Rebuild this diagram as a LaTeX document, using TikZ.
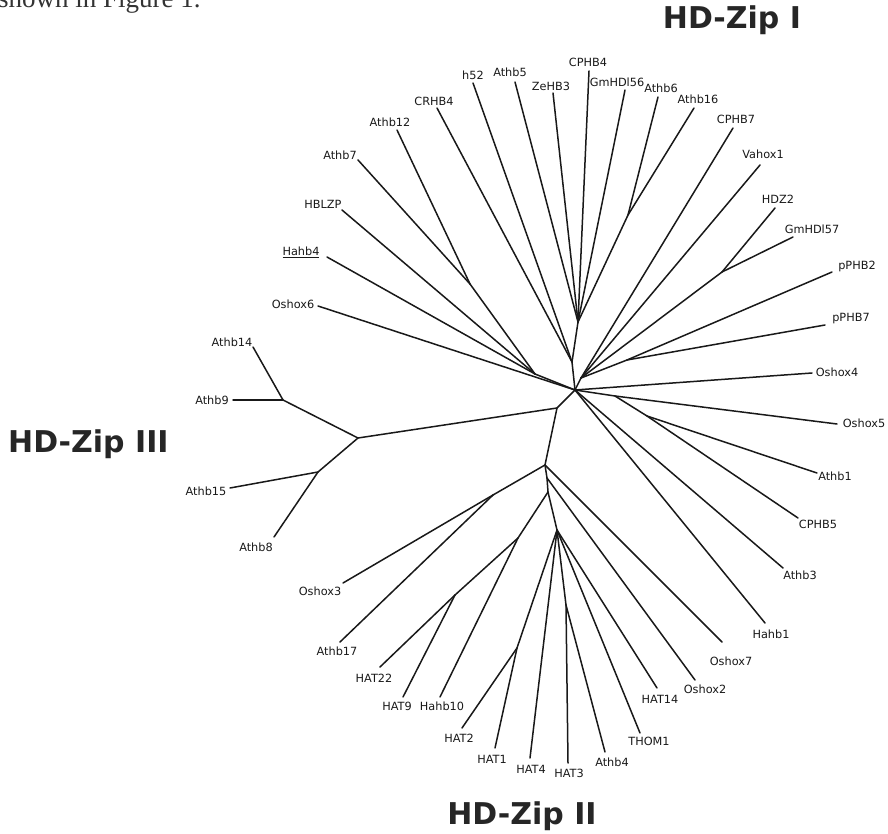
\documentclass[tikz,border=0pt]{standalone}
\usepackage{fontspec}
\setmainfont{DejaVu Sans}
\newfontfamily\bodyfont{Liberation Serif}
\begin{document}
\begin{tikzpicture}[x=1pt,y=-1pt,
  br/.style={line width=1.5pt, line cap=round, line join=round, black!90},
  lab/.style={font=\fontsize{11.3}{13}\selectfont, inner sep=0pt, text=black!90},
  ttl/.style={font=\fontsize{30}{34}\selectfont\bfseries, inner sep=0pt, text=black!85}]
\useasboundingbox (0,0) rectangle (888,834);
\fill[white] (0,0) rectangle (888,834);
\begin{scope}
\clip (0,0) rectangle (888,834);
\node[font=\bodyfont\fontsize{27}{30}\selectfont, inner sep=0pt, anchor=base west, text=black!80] (cut) at (-2,8) {shown in Figure 1.};
\end{scope}
% internal nodes
\coordinate (H) at (575,390);
\coordinate (T1) at (572,362);
\coordinate (TA) at (578,322);
\coordinate (N616) at (628,215);
\coordinate (L1) at (535,374);
\coordinate (N712) at (470,284);
\coordinate (RT) at (581,378);
\coordinate (NHDZ) at (722,272);
\coordinate (Npp) at (627,360);
\coordinate (R1) at (615,396);
\coordinate (R2) at (647,416);
\coordinate (D1) at (557,408);
\coordinate (N3) at (358,438);
\coordinate (N9) at (283,400);
\coordinate (N15) at (318,472);
\coordinate (D2) at (545,465);
\coordinate (NO3) at (493,495);
\coordinate (D2b) at (547,478);
\coordinate (D3) at (548,492);
\coordinate (D4) at (518,538);
\coordinate (D5) at (455,595);
\coordinate (D6) at (557,530);
\coordinate (N12) at (517,648);
\coordinate (D7) at (566,605);
% tips
\coordinate (tCRHB4) at (437,108);
\coordinate (th52) at (473,83);
\coordinate (tAthb5) at (515,82);
\coordinate (tZeHB3) at (553,93);
\coordinate (tCPHB4) at (589,71);
\coordinate (tGm56) at (625,90);
\coordinate (tAthb6) at (658,97);
\coordinate (tAthb16) at (694,108);
\coordinate (tCPHB7) at (733,128);
\coordinate (tVahox1) at (760,165);
\coordinate (tHDZ2) at (775,208);
\coordinate (tGm57) at (793,237);
\coordinate (tpPHB2) at (832,272);
\coordinate (tpPHB7) at (825,325);
\coordinate (tOshox4) at (812,373);
\coordinate (tOshox5) at (837,424);
\coordinate (tAthb1) at (817,473);
\coordinate (tCPHB5) at (798,518);
\coordinate (tAthb3) at (783,568);
\coordinate (tHahb1) at (765,623);
\coordinate (tOshox7) at (722,642);
\coordinate (tOshox2) at (695,680);
\coordinate (tHAT14) at (657,688);
\coordinate (tTHOM1) at (640,733);
\coordinate (tAthb4) at (605,752);
\coordinate (tHAT3) at (568,763);
\coordinate (tHAT4) at (530,758);
\coordinate (tHAT1) at (495,748);
\coordinate (tHAT2) at (462,728);
\coordinate (tHahb10) at (440,697);
\coordinate (tHAT9) at (403,697);
\coordinate (tHAT22) at (380,667);
\coordinate (tAthb17) at (340,642);
\coordinate (tOshox3) at (343,583);
\coordinate (tAthb8) at (274,537);
\coordinate (tAthb15) at (230,488);
\coordinate (tAthb9) at (233,400);
\coordinate (tAthb14) at (253,347);
\coordinate (tOshox6) at (318,306);
\coordinate (tHahb4) at (327,257);
\coordinate (tHBLZP) at (342,210);
\coordinate (tAthb7) at (358,160);
\coordinate (tAthb12) at (397,130);
% branches
\draw[br] (tCRHB4) -- (T1);
\draw[br] (th52) -- (T1);
\draw[br] (T1) -- (TA);
\draw[br] (T1) -- (H);
\draw[br] (tAthb5) -- (TA);
\draw[br] (tZeHB3) -- (TA);
\draw[br] (tCPHB4) -- (TA);
\draw[br] (tGm56) -- (TA);
\draw[br] (N616) -- (TA);
\draw[br] (tAthb6) -- (N616);
\draw[br] (tAthb16) -- (N616);
\draw[br] (tCPHB7) -- (RT);
\draw[br] (tVahox1) -- (RT);
\draw[br] (NHDZ) -- (RT);
\draw[br] (tHDZ2) -- (NHDZ);
\draw[br] (tGm57) -- (NHDZ);
\draw[br] (Npp) -- (RT);
\draw[br] (tpPHB2) -- (Npp);
\draw[br] (tpPHB7) -- (Npp);
\draw[br] (RT) -- (H);
\draw[br] (tOshox4) -- (H);
\draw[br] (H) -- (R1);
\draw[br] (R1) -- (tOshox5);
\draw[br] (R1) -- (R2);
\draw[br] (R2) -- (tAthb1);
\draw[br] (R2) -- (tCPHB5);
\draw[br] (H) -- (tAthb3);
\draw[br] (H) -- (tHahb1);
\draw[br] (tOshox6) -- (H);
\draw[br] (L1) -- (H);
\draw[br] (tHBLZP) -- (L1);
\draw[br] (tHahb4) -- (L1);
\draw[br] (N712) -- (L1);
\draw[br] (tAthb7) -- (N712);
\draw[br] (tAthb12) -- (N712);
\draw[br] (H) -- (D1);
\draw[br] (D1) -- (N3);
\draw[br] (N3) -- (N9);
\draw[br] (N9) -- (tAthb14);
\draw[br] (N9) -- (tAthb9);
\draw[br] (N3) -- (N15);
\draw[br] (N15) -- (tAthb15);
\draw[br] (N15) -- (tAthb8);
\draw[br] (D1) -- (D2);
\draw[br] (D2) -- (NO3);
\draw[br] (NO3) -- (tOshox3);
\draw[br] (NO3) -- (tAthb17);
\draw[br] (D2) -- (tOshox7);
\draw[br] (D2) -- (D2b);
\draw[br] (D2b) -- (tOshox2);
\draw[br] (D2b) -- (D3);
\draw[br] (D3) -- (D4);
\draw[br] (D4) -- (D5);
\draw[br] (D5) -- (tHAT22);
\draw[br] (D5) -- (tHAT9);
\draw[br] (D4) -- (tHahb10);
\draw[br] (D3) -- (D6);
\draw[br] (D6) -- (tHAT14);
\draw[br] (D6) -- (tTHOM1);
\draw[br] (D6) -- (tHAT4);
\draw[br] (D6) -- (N12);
\draw[br] (N12) -- (tHAT2);
\draw[br] (N12) -- (tHAT1);
\draw[br] (D6) -- (D7);
\draw[br] (D7) -- (tHAT3);
\draw[br] (D7) -- (tAthb4);
% labels
\node[lab] (lCRHB4) at (434,101) {CRHB4};
\node[lab] (lh52) at (473,75) {h52};
\node[lab] (lAthb5) at (510,72) {Athb5};
\node[lab] (lZeHB3) at (551,86) {ZeHB3};
\node[lab] (lCPHB4) at (588,62) {CPHB4};
\node[lab] (lGm56) at (617,82) {GmHDl56};
\node[lab] (lAthb6) at (661,88) {Athb6};
\node[lab] (lAthb16) at (698,99) {Athb16};
\node[lab] (lCPHB7) at (736,119) {CPHB7};
\node[lab] (lVahox1) at (763,154) {Vahox1};
\node[lab] (lHDZ2) at (778,199) {HDZ2};
\node[lab] (lGm57) at (812,229) {GmHDl57};
\node[lab] (lpPHB2) at (857,266) {pPHB2};
\node[lab] (lpPHB7) at (851,319) {pPHB7};
\node[lab] (lOshox4) at (837,372) {Oshox4};
\node[lab] (lOshox5) at (864,423) {Oshox5};
\node[lab] (lAthb1) at (835,476) {Athb1};
\node[lab] (lCPHB5) at (818,524) {CPHB5};
\node[lab] (lAthb3) at (800,575) {Athb3};
\node[lab] (lHahb1) at (771,634) {Hahb1};
\node[lab] (lOshox7) at (731,661) {Oshox7};
\node[lab] (lOshox2) at (705,689) {Oshox2};
\node[lab] (lHAT14) at (660,699) {HAT14};
\node[lab] (lTHOM1) at (649,741) {THOM1};
\node[lab] (lAthb4) at (612,762) {Athb4};
\node[lab] (lHAT3) at (569,773) {HAT3};
\node[lab] (lHAT4) at (531,769) {HAT4};
\node[lab] (lHAT1) at (492,759) {HAT1};
\node[lab] (lHAT2) at (459,738) {HAT2};
\node[lab] (lHahb10) at (442,706) {Hahb10};
\node[lab] (lHAT9) at (397,706) {HAT9};
\node[lab] (lHAT22) at (374,678) {HAT22};
\node[lab] (lAthb17) at (337,651) {Athb17};
\node[lab] (lOshox3) at (320,591) {Oshox3};
\node[lab] (lAthb8) at (256,547) {Athb8};
\node[lab] (lAthb15) at (206,491) {Athb15};
\node[lab] (lAthb9) at (212,400) {Athb9};
\node[lab] (lAthb14) at (232,342) {Athb14};
\node[lab] (lOshox6) at (293,304) {Oshox6};
\node[lab] (lHahb4) at (301,252) {\underline{Hahb4}};
\node[lab] (lHBLZP) at (323,204) {HBLZP};
\node[lab] (lAthb7) at (340,155) {Athb7};
\node[lab] (lAthb12) at (390,122) {Athb12};
% titles
\node[ttl, anchor=base] (zipI) at (732,29) {HD-Zip I};
\node[ttl, anchor=base west] (zipIII) at (8,452) {HD-Zip III};
\node[ttl, anchor=base] (zipII) at (522,824) {HD-Zip II};
\end{tikzpicture}
\end{document}
